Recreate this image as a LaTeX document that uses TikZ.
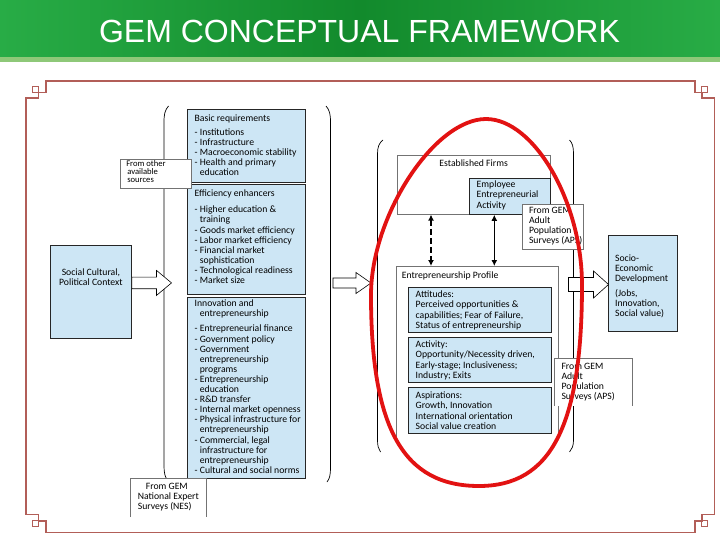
\documentclass[tikz,border=0pt]{standalone}
\usepackage{fontspec}
\setmainfont{Carlito}
\newfontfamily\headfont{Liberation Sans}
\usetikzlibrary{calc,arrows.meta}
\definecolor{hdrgreen}{RGB}{40,172,70}
\definecolor{hdrdark}{RGB}{18,138,44}
\definecolor{hdrline}{RGB}{142,200,120}
\definecolor{framered}{RGB}{178,94,88}
\definecolor{boxblue}{RGB}{205,230,245}
\definecolor{ovalred}{RGB}{226,18,18}
\newcommand{\cellbox}[4]{\parbox[t][#2][t]{#1}{\raggedright\leftskip=7pt\relax\vspace*{#3}#4}}
\newcommand{\centrebox}[4]{\parbox[t][#2][t]{#1}{\centering\vspace*{#3}#4}}
\newcommand{\cind}{\phantom{- }}
\newcommand{\fatarrow}[4]{\draw[blockarrow] (#1) ++(0,-#3) -- ++(#2,0) -- ++(0,#3-#4) -- ++(15,#4) -- ++(-15,#4) -- ++(0,#3-#4) -- ++(-#2,0) -- cycle;}

\begin{document}
\begin{tikzpicture}[x=1pt,y=-1pt,
  diag/.style={font=\fontsize{9.7}{10.1}\selectfont, inner sep=0pt, anchor=north west},
  bluebox/.style={diag, draw=black!85, line width=0.8pt, fill=boxblue},
  whitebox/.style={diag, draw=black!55, line width=0.6pt, fill=white},
  blockarrow/.style={draw=black, line width=0.6pt, fill=white, line join=miter},
  twoway/.style={{Latex[length=6pt,width=6pt]}-{Latex[length=6pt,width=6pt]}, line width=1.3pt},
  paren/.style={draw=black, line width=0.7pt},
  framerule/.style={draw=framered, line width=1.6pt}
]
\useasboundingbox (0,0) rectangle (720,540);

\fill[left color=hdrgreen, right color=hdrgreen, middle color=hdrdark] (0,0) rectangle (720,57);
\fill[hdrline] (0,57) rectangle (720,62);
\node[text=white, font=\headfont\fontsize{32}{32}\selectfont] (title) at (359.5,31) {GEM CONCEPTUAL FRAMEWORK};

\draw[framerule] (25.7,98.3) -- (38.3,98.3) -- (38.3,92.7) -- (45.7,92.7) -- (45.7,81) -- (695,81) -- (695,92.7) -- (701.7,92.7) -- (701.7,98.3) -- (714.3,98.3) -- (714.3,514.3) -- (701.7,514.3) -- (701.7,520.7) -- (695,520.7) -- (695,532.3) -- (45.7,532.3) -- (45.7,520.7) -- (38.3,520.7) -- (38.3,514.3) -- (25.7,514.3) -- cycle;
\draw[framerule, line width=1.2pt] (32.3,86.7) rectangle (38.3,92.7) (701.7,86.7) rectangle (707.7,92.7) (32.3,520.7) rectangle (38.3,526.7) (701.7,520.7) rectangle (707.7,526.7);

\draw[paren] (168.5,106) .. controls (165,110) and (164,114) .. (164,122) -- (164,466) .. controls (164,473) and (165,477) .. (167.5,480);
\draw[paren] (326,106) .. controls (329.5,110) and (330.5,114) .. (330.5,122) -- (330.5,468) .. controls (330.5,475) and (329.5,479) .. (327,482);
\draw[paren] (383,140) .. controls (379,143) and (377.5,147) .. (377.5,154) -- (377.5,440) .. controls (377.5,446) and (378.5,449) .. (380.5,452);
\draw[paren] (569.5,140) .. controls (572.5,143) and (573.5,147) .. (573.5,154) -- (573.5,440) .. controls (573.5,446) and (572,449) .. (569.5,452);

\node[bluebox] (social) at (50,245) {\centrebox{81pt}{93pt}{23pt}{Social Cultural,\\Political Context}};

\node[bluebox] (basic) at (187.3,109) {\cellbox{117.7pt}{73.3pt}{5pt}{Basic requirements\\[4.3pt]
- Institutions\\
- Infrastructure\\
- Macroeconomic stability\\
- Health and primary\\
\cind education}};

\node[bluebox] (effic) at (187.3,184.3) {\cellbox{117.7pt}{110pt}{4.7pt}{Efficiency enhancers\\[6.6pt]
- Higher education \&\\
\cind training\\
- Goods market efficiency\\
- Labor market efficiency\\
- Financial market\\
\cind sophistication\\
- Technological readiness\\
- Market size}};

\node[bluebox] (innov) at (187.3,297.3) {\cellbox{117.7pt}{181pt}{1.7pt}{Innovation and\\
\cind entrepreneurship\\[5.6pt]
- Entrepreneurial finance\\
- Government policy\\
- Government\\
\cind entrepreneurship\\
\cind programs\\
- Entrepreneurship\\
\cind education\\
- R\&D transfer\\
- Internal market openness\\
- Physical infrastructure for\\
\cind entrepreneurship\\
- Commercial, legal\\
\cind infrastructure for\\
\cind entrepreneurship\\
- Cultural and social norms}};

\node[whitebox, font=\fontsize{8.6}{8.3}\selectfont] (othersrc) at (120,159.3) {\cellbox{70.7pt}{28.4pt}{0.6pt}{\hspace*{-1pt}From other\\available\\sources}};

\node[diag, fill=white] (nes) at (130.7,478.3) {\cellbox{75.3pt}{38.4pt}{5pt}{\hspace*{8pt}From GEM\\National Expert\\Surveys (NES)}};
\draw[draw=black!55, line width=0.6pt] (nes.south west) -- (nes.north west) -- (nes.north east) -- (nes.south east);

\node[whitebox] (estfirms) at (396.7,155) {\centrebox{153.3pt}{59pt}{4pt}{Established Firms}};
\node[bluebox] (employee) at (469.3,177.7) {\cellbox{80.7pt}{36.3pt}{3pt}{Employee\\Entrepreneurial\\Activity}};
\node[whitebox] (apsa) at (521.7,204) {\cellbox{61.6pt}{45pt}{2.7pt}{From GEM\\Adult\\Population\\Surveys (APS)}};

\node[diag, fill=white] (profile) at (396.7,266) {\cellbox{161pt}{172pt}{5.7pt}{\hspace*{-2pt}Entrepreneurship Profile}};
\draw[draw=black!55, line width=0.6pt] (profile.south west) -- (profile.north west) -- (profile.north east) -- (profile.south east);

\node[bluebox] (attitudes) at (408.3,287.3) {\cellbox{142.4pt}{44.4pt}{3.4pt}{Attitudes:\\Perceived opportunities \&\\capabilities; Fear of Failure,\\Status of entrepreneurship}};
\node[bluebox] (activity) at (408.3,337.3) {\cellbox{142.4pt}{44.4pt}{3.4pt}{Activity:\\Opportunity/Necessity driven,\\Early-stage; Inclusiveness;\\Industry; Exits}};
\node[bluebox] (aspirations) at (408.3,387.3) {\cellbox{142.4pt}{45.4pt}{4.4pt}{Aspirations:\\Growth, Innovation\\International orientation\\Social value creation}};

\node[diag, fill=white] (apsb) at (554.3,358.3) {\cellbox{78pt}{47pt}{4.7pt}{From GEM\\Adult\\Population\\Surveys (APS)}};
\draw[draw=black!55, line width=0.6pt] (apsb.south west) -- (apsb.north west) -- (apsb.north east) -- (apsb.south east);

\node[bluebox] (socio) at (607.7,235) {\cellbox{69pt}{95.7pt}{19pt}{Socio-\\Economic\\Development\\[5pt](Jobs,\\Innovation,\\Social value)}};

\draw[twoway, line width=2pt, dash pattern=on 6pt off 3pt] ([xshift=34.3pt]estfirms.south west) -- ([xshift=34.3pt]estfirms.south west |- profile.north);
\draw[twoway] ([xshift=25pt]employee.south west) -- ([xshift=25pt]employee.south west |- profile.north);

\coordinate (leftout) at ([yshift=9pt]social.east);
\coordinate (midin) at (333,283);
\coordinate (midout) at (568.5,284.5);
\fatarrow{leftout}{24.7}{5.8}{12.5}
\fatarrow{midin}{23}{5}{10.5}
\fatarrow{midout}{25}{7}{13.5}

\draw[ovalred, line width=3.8pt, line join=round] (486,119) .. controls (534,119) and (582,202) .. (582,285) .. controls (582,425.7) and (551.1,486) .. (479,486) .. controls (403.4,486) and (371,428.7) .. (371,295) .. controls (371,215.8) and (434.3,119) .. (486,119) -- cycle;
\end{tikzpicture}
\end{document}
